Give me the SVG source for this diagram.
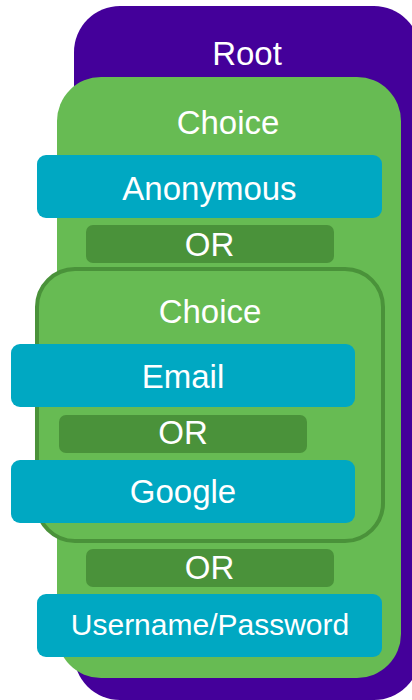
<svg xmlns="http://www.w3.org/2000/svg" width="412" height="700" viewBox="0 0 412 700">
<style>
text{font-family:"Liberation Sans",Arial,sans-serif;fill:#ffffff;text-anchor:middle;font-size:33px}
.root{fill:#44009a}
.choice{fill:#67bb53}
.inner{fill:#67bb53;stroke:#4a923a;stroke-width:4}
.opt{fill:#00a8c2}
.or{fill:#4a923a}
</style>
<rect width="412" height="700" fill="#ffffff"/>
<g id="root">
<rect class="root" x="74" y="6" width="346" height="694" rx="46"/>
<text x="247" y="65">Root</text>
</g>
<g id="choice-outer">
<rect class="choice" x="57" y="77" width="344" height="601" rx="44"/>
<text x="228" y="134">Choice</text>
</g>
<g id="anonymous">
<rect class="opt" x="37" y="155" width="345" height="63" rx="9"/>
<text x="209.5" y="200">Anonymous</text>
</g>
<g id="or1">
<rect class="or" x="86" y="225" width="248" height="38" rx="7"/>
<text x="209.5" y="256">OR</text>
</g>
<g id="choice-inner">
<rect class="inner" x="37" y="269" width="346" height="272" rx="38"/>
<text x="210" y="323">Choice</text>
</g>
<g id="email">
<rect class="opt" x="11" y="344" width="344" height="63" rx="9"/>
<text x="183" y="388">Email</text>
</g>
<g id="or2">
<rect class="or" x="59" y="415" width="248" height="38" rx="7"/>
<text x="183" y="444">OR</text>
</g>
<g id="google">
<rect class="opt" x="11" y="460" width="344" height="63" rx="9"/>
<text x="183" y="503">Google</text>
</g>
<g id="or3">
<rect class="or" x="86" y="549" width="248" height="38" rx="7"/>
<text x="209.5" y="579">OR</text>
</g>
<g id="username-password">
<rect class="opt" x="37" y="594" width="345" height="63" rx="9"/>
<text x="210" y="635" style="font-size:30px">Username/Password</text>
</g>
</svg>
